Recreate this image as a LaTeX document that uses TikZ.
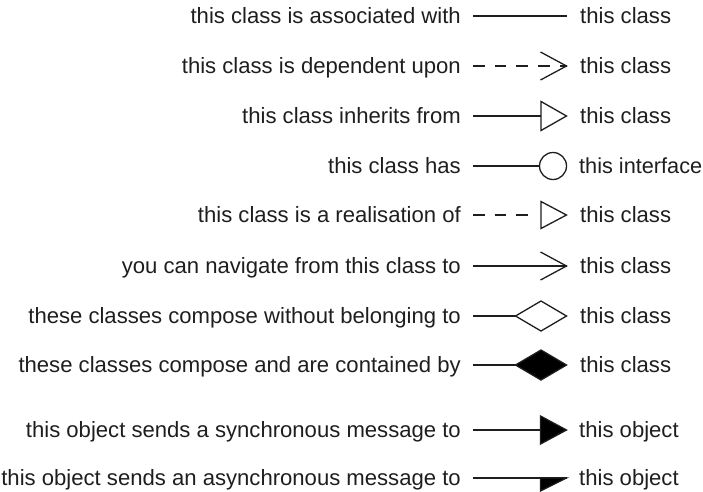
\documentclass[tikz,border=0pt]{standalone}
\usepackage{fontspec}
\setmainfont{Liberation Sans}
\definecolor{ink}{HTML}{1E1E1E}
\begin{document}
\begin{tikzpicture}[x=1pt,y=-1pt,
  lbl/.style={font=\fontsize{22.1}{26}\selectfont, text=ink, inner sep=0pt},
  lefttext/.style={lbl, anchor=base east},
  righttext/.style={lbl, anchor=base west},
  link/.style={draw=ink, line width=1.3pt},
  dashlink/.style={link, dash pattern=on 11.7pt off 10pt},
  head/.style={draw=ink, line width=1.3pt, line join=miter},
  openhead/.style={head, fill=white},
  solidhead/.style={head, fill=black}]
\useasboundingbox (0,0) rectangle (703,491);

% left-hand labels (right aligned)
\node[lefttext] (l1)  at (461,23)  {this class is associated with};
\node[lefttext] (l2)  at (461,73)  {this class is dependent upon};
\node[lefttext] (l3)  at (461,123) {this class inherits from};
\node[lefttext] (l4)  at (461,173) {this class has};
\node[lefttext] (l5)  at (461,222) {this class is a realisation of};
\node[lefttext] (l6)  at (461,273) {you can navigate from this class to};
\node[lefttext] (l7)  at (461,323) {these classes compose without belonging to};
\node[lefttext] (l8)  at (461,372) {these classes compose and are contained by};
\node[lefttext] (l9)  at (461,437) {this object sends a synchronous message to};
\node[lefttext] (l10) at (461,485) {this object sends an asynchronous message to};

% right-hand labels
\node[righttext] (r1)  at (580,23)  {this class};
\node[righttext] (r2)  at (580,73)  {this class};
\node[righttext] (r3)  at (580,123) {this class};
\node[righttext, font=\fontsize{21.7}{26}\selectfont] (r4)  at (579,173) {this interface};
\node[righttext] (r5)  at (580,222) {this class};
\node[righttext] (r6)  at (580,273) {this class};
\node[righttext] (r7)  at (580,323) {this class};
\node[righttext] (r8)  at (580,372) {this class};
\node[righttext] (r9)  at (579,437) {this object};
\node[righttext] (r10) at (579,485) {this object};

% connector end points
\foreach \i/\y in {1/16,2/66,3/116,4/166,5/215,6/266,7/316,8/365,9/430,10/478}{
  \coordinate (a\i) at (473,\y);
  \coordinate (b\i) at (566.5,\y);
}

% association
\draw[link] (a1) -- (b1);
% dependency
\draw[dashlink] (a2) -- (b2);
\draw[head] (b2) ++(-26,-14) -- (b2) -- ++(-26,14);
% inheritance
\draw[link] (a3) -- ([xshift=-25.5pt]b3);
\draw[openhead] (b3) -- ++(-25.5,-14.5) -- ++(0,29) -- cycle;
% interface
\draw[link] (a4) -- ([xshift=-27pt]b4);
\draw[head] ([xshift=-13.5pt]b4) circle[radius=13.5pt];
% realisation
\draw[dashlink] (a5) -- ([xshift=-29pt]b5);
\draw[openhead] (b5) -- ++(-25.5,-13.5) -- ++(0,27) -- cycle;
% navigable association
\draw[link] (a6) -- (b6);
\draw[head] (b6) ++(-26,-14) -- (b6) -- ++(-26,14);
% aggregation
\draw[link] (a7) -- ([xshift=-51pt]b7);
\draw[openhead] (b7) -- ++(-25.5,-15) -- ++(-25.5,15) -- ++(25.5,15) -- cycle;
% composition
\draw[link] (a8) -- ([xshift=-51pt]b8);
\draw[solidhead] (b8) -- ++(-25.5,-15) -- ++(-25.5,15) -- ++(25.5,15) -- cycle;
% synchronous message
\draw[link] (a9) -- ([xshift=-26pt]b9);
\draw[solidhead] (b9) -- ++(-26,-14) -- ++(0,28) -- cycle;
% asynchronous message
\draw[link] (a10) -- (b10);
\draw[solidhead] (b10) -- ++(-26,0) -- ++(0,13) -- cycle;
\end{tikzpicture}
\end{document}
